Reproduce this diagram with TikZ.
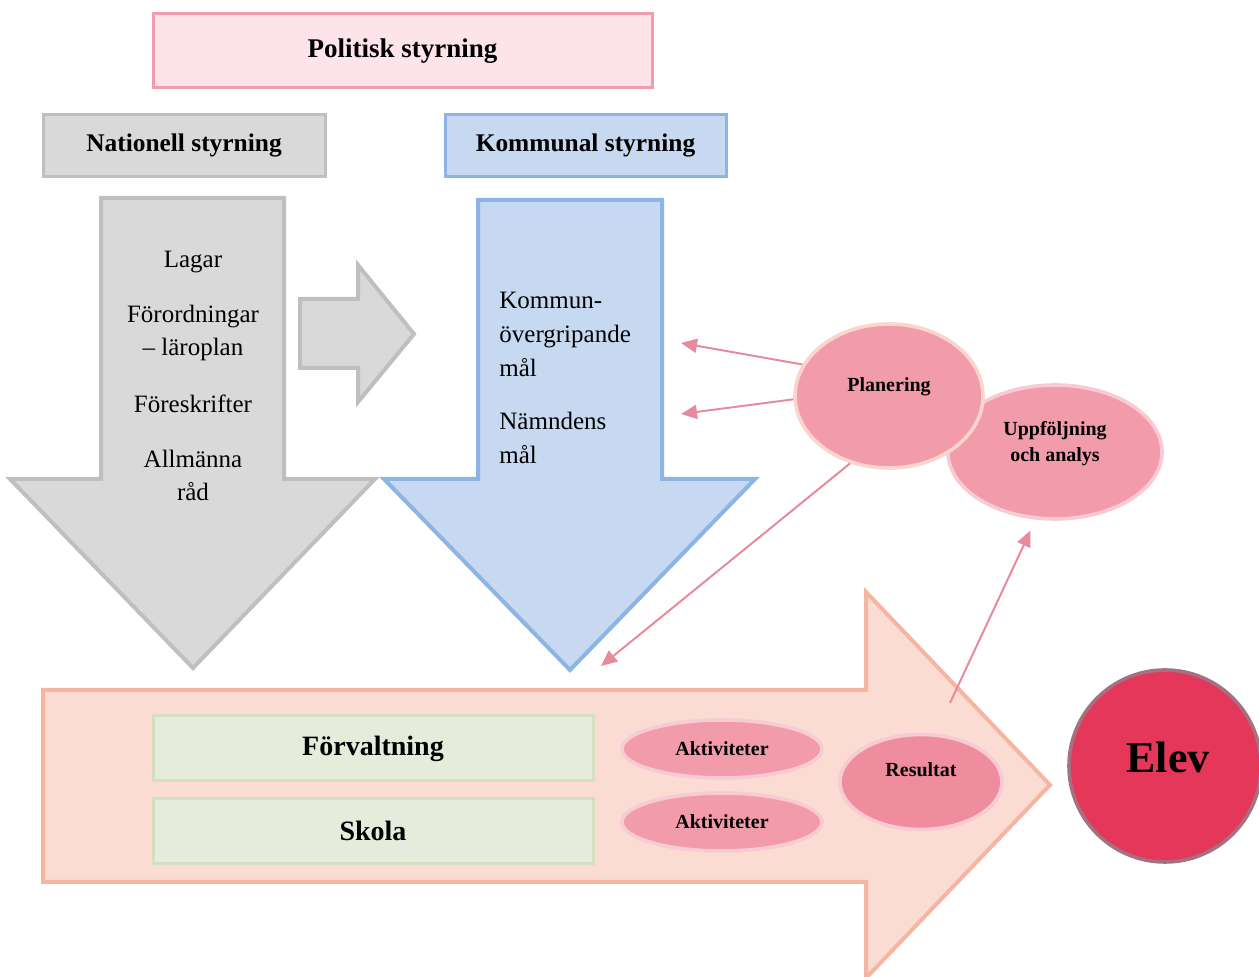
\documentclass[tikz,border=0pt]{standalone}
\usepackage{fontspec}
\setmainfont{Liberation Serif}
\usetikzlibrary{shapes.geometric,arrows.meta}
\definecolor{polfill}{HTML}{FCE4EA}
\definecolor{poldraw}{HTML}{F09DAE}
\definecolor{grayfill}{HTML}{D9D9D9}
\definecolor{graydraw}{HTML}{BFBFBF}
\definecolor{bluefill}{HTML}{C6D9F0}
\definecolor{bluedraw}{HTML}{8DB4E2}
\definecolor{salfill}{HTML}{FADCD2}
\definecolor{saldraw}{HTML}{F5B5A1}
\definecolor{grnfill}{HTML}{E5ECDB}
\definecolor{grndraw}{HTML}{D4DFC2}
\definecolor{pinkfill}{HTML}{F29CAB}
\definecolor{pinkdraw}{HTML}{F8CAD3}
\definecolor{peachdraw}{HTML}{F9D5CB}
\definecolor{resfill}{HTML}{EF8C9E}
\definecolor{elevfill}{HTML}{E5375A}
\definecolor{elevdraw}{HTML}{A57080}
\definecolor{linkcol}{HTML}{E88A9D}
\tikzset{
  headbox/.style={draw, line width=1.5pt, inner sep=0pt, font=\fontsize{12.7}{15}\selectfont\bfseries},
  listtext/.style={align=center, inner sep=0pt, font=\fontsize{12.5}{16.5}\selectfont},
  bluetext/.style={align=left, anchor=west, inner sep=0pt, font=\fontsize{12.5}{17}\selectfont},
  greenbox/.style={draw=grndraw, fill=grnfill, line width=1.5pt, minimum width=220pt, minimum height=32.5pt, inner sep=0pt, font=\fontsize{14}{16}\selectfont\bfseries},
  pinkell/.style={ellipse, draw=pinkdraw, fill=pinkfill, line width=1.8pt, inner sep=0pt},
  elltext/.style={align=center, inner sep=0pt, font=\fontsize{10}{13}\selectfont\bfseries},
  link/.style={draw=linkcol, line width=1pt, -{Triangle[length=8pt,width=7pt]}}
}
\begin{document}
\begin{tikzpicture}[x=0.5pt, y=-0.5pt]
\useasboundingbox (0,0) rectangle (1259,977);
% top boxes
\node[headbox, draw=poldraw, fill=polfill, minimum width=249.5pt, minimum height=37pt, font=\fontsize{13.5}{15}\selectfont\bfseries] (pol) at (402.5,51) {Politisk styrning};
\node[headbox, draw=graydraw, fill=grayfill, minimum width=141pt, minimum height=31pt] (nat) at (184,146) {Nationell styrning};
\node[headbox, draw=bluedraw, fill=bluefill, minimum width=140.5pt, minimum height=31pt] (kom) at (585.5,146) {Kommunal styrning};
% gray down arrow
\draw[draw=graydraw, fill=grayfill, line width=2pt, line join=miter]
  (101,198) -- (284,198) -- (284,479) -- (375,479) -- (193,668) -- (10,479) -- (101,479) -- cycle;
% small gray right arrow
\draw[draw=graydraw, fill=grayfill, line width=2pt, line join=miter]
  (300,299) -- (358,299) -- (358,265) -- (414,334) -- (358,402) -- (358,368) -- (300,368) -- cycle;
% blue down arrow
\draw[draw=bluedraw, fill=bluefill, line width=2pt, line join=miter]
  (478,200) -- (662,200) -- (662,479) -- (755,479) -- (570,670) -- (384,479) -- (478,479) -- cycle;
% salmon right arrow
\draw[draw=saldraw, fill=salfill, line width=2pt, line join=miter]
  (43,690) -- (866,690) -- (866,592) -- (1050,785) -- (866,978) -- (866,882) -- (43,882) -- cycle;
% texts in gray arrow
\node[listtext] (lagar) at (193,262) {Lagar};
\node[listtext] (forord) at (193,333) {Förordningar\\– läroplan};
\node[listtext] (foresk) at (193,404) {Föreskrifter};
\node[listtext] (allm) at (193,475) {Allmänna\\råd};
% texts in blue arrow
\node[bluetext] (kommal) at (499,334) {Kommun-\\övergripande\\mål};
\node[bluetext] (namnd) at (499,438) {Nämndens\\mål};
% green boxes
\node[greenbox] (forv) at (373,748.5) {Förvaltning};
\node[greenbox] (skola) at (373,831) {Skola};
% activity ellipses
\node[pinkell, minimum width=100pt, minimum height=29pt] (akt1) at (722,749) {};
\node[elltext] (akt1t) at (722,749) {Aktiviteter};
\node[pinkell, minimum width=100pt, minimum height=29pt] (akt2) at (722,822) {};
\node[elltext] (akt2t) at (722,822) {Aktiviteter};
\node[pinkell, fill=resfill, minimum width=81pt, minimum height=47.5pt] (res) at (921,782) {};
\node[elltext] (rest) at (921,770) {Resultat};
% Elev
\node[circle, draw=elevdraw, fill=elevfill, line width=1.8pt, minimum size=96pt, inner sep=0pt] (elev) at (1165,766) {};
\node[inner sep=0pt, font=\fontsize{22}{24}\selectfont\bfseries] (elevt) at (1168,757) {Elev};
% Uppfoljning and Planering
\node[pinkell, draw=pinkdraw, minimum width=107pt, minimum height=67pt] (upp) at (1055,452) {};
\node[elltext] (uppt) at (1055,444) {Uppföljning\\och analys};
\node[pinkell, draw=peachdraw, minimum width=94pt, minimum height=72pt] (plan) at (889,396) {};
\node[elltext] (plant) at (889,387) {Planering};
% connectors
\coordinate (t1) at (681,343);
\coordinate (t2) at (681,414);
\coordinate (t3) at (601,666);
\coordinate (s4) at (950,703);
\draw[link] (plan.160) -- (t1);
\draw[link] (plan.182) -- (t2);
\draw[link] (plan.240) -- (t3);
\draw[link, shorten >=6pt] (s4) -- (upp.254);
\end{tikzpicture}
\end{document}
